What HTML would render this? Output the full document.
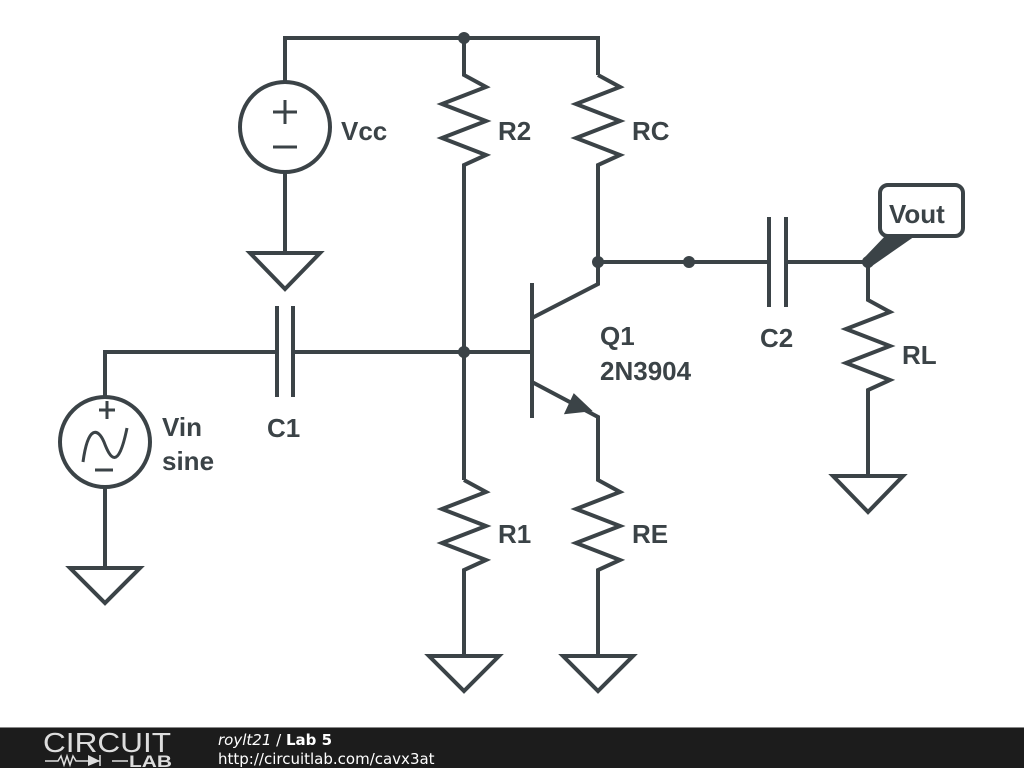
<!DOCTYPE html>
<html><head><meta charset="utf-8"><style>
html,body{margin:0;padding:0;background:#fff;}
svg{display:block}
</style></head><body>
<svg width="1024" height="768" viewBox="0 0 1024 768" xmlns="http://www.w3.org/2000/svg">
<rect width="1024" height="768" fill="#fff"/>
<g stroke="#3b4347" stroke-width="4" fill="none" stroke-linejoin="miter" stroke-linecap="butt">
<path d="M285 82 V38 H598 V75"/>
<circle cx="285" cy="127" r="45"/>
<path d="M285 172 V252"/>
<path d="M250 253 H320 L285 289 Z"/>
<path d="M464 38 V75 L486 87 L442 104 L486 121 L442 138 L486 155 L464 165 V480"/>
<path d="M464 480 L486 492 L442 509 L486 526 L442 543 L486 560 L464 570 V655"/>
<path d="M429 656 H499 L464 691 Z"/>
<path d="M598 75 L620 87 L576 104 L620 121 L576 138 L620 155 L598 165 V284 L532 318"/>
<path d="M532 283 V418"/>
<path d="M464 352 H532"/>
<path d="M532 382 L598 417 V480 L620 492 L576 509 L620 526 L576 543 L620 560 L598 570 V655"/>
<path d="M563 656 H633 L598 691 Z"/>
<path d="M105 397 V352 H277 M277 306 V397 M293 306 V397 M293 352 H464"/>
<circle cx="105" cy="442" r="45"/>
<path d="M105 487 V567"/>
<path d="M70 568 H140 L105 603 Z"/>
<path d="M598 262 H769 M769 217 V307 M786 217 V307 M786 262 H868 V300 L890 312 L846 329 L890 346 L846 363 L890 380 L868 390 V475"/>
<path d="M833 476 H903 L868 512 Z"/>
<path d="M285 100 V124 M273 112 H297 M273 147 H297" stroke-width="3"/>
<path d="M107 401 V419 M99 410 H115 M95 470 H113" stroke-width="3"/>
<path d="M83 462 C88 425 98 428 104 442 C110 458 118 472 127 428" stroke-width="3"/>
<rect x="880" y="185" width="83" height="51" rx="8"/>
</g>
<g fill="#3b4347">
<circle cx="464" cy="38" r="6"/>
<circle cx="464" cy="352" r="6"/>
<circle cx="598" cy="262" r="6"/>
<circle cx="689" cy="262" r="6"/>
<circle cx="868" cy="262" r="6"/>
<path d="M575 393 L563 413 L592 413 Z" transform="rotate(-6 575 405)"/>
<path d="M864 258 L887 234 L918 234 L872 266 Z"/>
</g>
<g font-family="Liberation Sans, sans-serif" font-weight="bold" font-size="26" fill="#3b4347">
<text x="341" y="140">Vcc</text>
<text x="498" y="140">R2</text>
<text x="632" y="140">RC</text>
<text x="600" y="345">Q1</text>
<text x="600" y="380">2N3904</text>
<text x="760" y="347">C2</text>
<text x="902" y="364">RL</text>
<text x="162" y="436">Vin</text>
<text x="162" y="470">sine</text>
<text x="267" y="437">C1</text>
<text x="498" y="543">R1</text>
<text x="632" y="543">RE</text>
<text x="889" y="223">Vout</text>
</g>
<rect x="0" y="728" width="1024" height="40" fill="#1c1c1c"/>
<rect x="0" y="727" width="1024" height="1" fill="#888"/>
<g font-family="Liberation Sans, sans-serif" fill="#fff">
<text x="43" y="752" font-size="28" textLength="128" lengthAdjust="spacingAndGlyphs" fill="#ddd">CIRCUIT</text>
<path d="M45 761 H58 L61 756 L64 765 L67 756 L70 765 L73 756 L76 761 H100 M100 755 V766 M112 761 H128" stroke="#ddd" stroke-width="1.5" fill="none"/>
<path d="M88 755 L100 761 L88 766 Z" fill="#ddd"/>
<text x="129" y="767" font-size="17" font-weight="bold" textLength="43" lengthAdjust="spacingAndGlyphs" fill="#ddd">LAB</text>
<text x="218" y="745" font-size="15" font-family="DejaVu Sans, sans-serif"><tspan font-style="italic">roylt21</tspan> / <tspan font-weight="bold">Lab 5</tspan></text>
<text x="218" y="764" font-size="15" font-family="DejaVu Sans, sans-serif">http://circuitlab.com/cavx3at</text>
</g>
</svg>
</body></html>
